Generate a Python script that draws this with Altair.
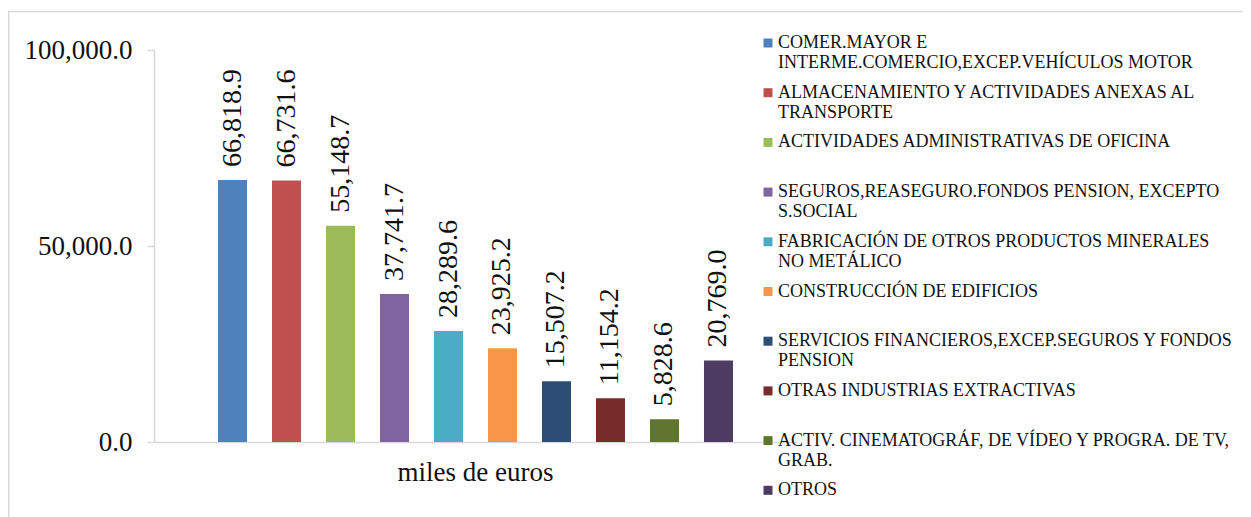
import altair as alt
import pandas as pd

sectors = [
    "COMER.MAYOR E|INTERME.COMERCIO,EXCEP.VEHÍCULOS MOTOR",
    "ALMACENAMIENTO Y ACTIVIDADES ANEXAS AL|TRANSPORTE",
    "ACTIVIDADES ADMINISTRATIVAS DE OFICINA",
    "SEGUROS,REASEGURO.FONDOS PENSION, EXCEPTO|S.SOCIAL",
    "FABRICACIÓN DE OTROS PRODUCTOS MINERALES|NO METÁLICO",
    "CONSTRUCCIÓN DE EDIFICIOS",
    "SERVICIOS FINANCIEROS,EXCEP.SEGUROS Y FONDOS|PENSION",
    "OTRAS INDUSTRIAS EXTRACTIVAS",
    "ACTIV. CINEMATOGRÁF, DE VÍDEO Y PROGRA. DE TV,|GRAB.",
    "OTROS",
]
values = [66818.9, 66731.6, 55148.7, 37741.7, 28289.6, 23925.2, 15507.2, 11154.2, 5828.6, 20769.0]
colors = ["#4F81BD", "#C0504D", "#9BBB59", "#8064A2", "#4BACC6",
          "#F79646", "#2C4D75", "#772C2A", "#5F7530", "#4D3B62"]
group = "miles de euros"
y_ticks = [0, 50000, 100000]

df = pd.DataFrame({"grupo": [group] * len(sectors), "sector": sectors, "valor": values})

FONT = "Liberation Serif, Times New Roman, serif"
GREY = "#D9D9D9"

base = alt.Chart(df).encode(
    x=alt.X("grupo:N", title=None,
            scale=alt.Scale(paddingInner=0, paddingOuter=0.0954),
            axis=alt.Axis(labelAngle=0, ticks=False, domainColor=GREY, domainWidth=1.5,
                          labelFont=FONT, labelFontSize=27, labelColor="#111111",
                          labelPadding=17, labelBaseline="top")),
    xOffset=alt.XOffset("sector:N", sort=sectors,
                        scale=alt.Scale(paddingInner=0.463, paddingOuter=0.2315)),
    y=alt.Y("valor:Q", title=None,
            scale=alt.Scale(domain=[0, 100000], nice=False),
            axis=alt.Axis(values=y_ticks, format=",.1f", grid=False,
                          domainColor=GREY, domainWidth=1.5, tickColor=GREY, tickWidth=1.5,
                          tickSize=7, labelFont=FONT, labelFontSize=27,
                          labelColor="#111111", labelPadding=15)),
)

bars = base.mark_bar().encode(
    color=alt.Color("sector:N", sort=sectors,
                    scale=alt.Scale(domain=sectors, range=colors),
                    legend=alt.Legend(
                        title=None, orient="none", legendX=605, legendY=-16,
                        symbolType="square", symbolSize=81, symbolStrokeWidth=0,
                        labelFont=FONT, labelFontSize=18, labelColor="#111111",
                        labelLimit=0, labelOffset=1, rowPadding=11.7,
                        labelExpr="length(split(datum.label,'|')) > 1 ? split(datum.label,'|') : [datum.label, ' ']",
                    ))
)

labels = base.mark_text(angle=270, align="left", baseline="middle", dx=13,
                        font=FONT, fontSize=28, color="#111111").encode(
    text=alt.Text("valor:Q", format=",.1f")
)

frame = alt.Chart(pd.DataFrame({"a": [0]})).mark_rect(
    fillOpacity=0, stroke=GREY, strokeWidth=1.5
).encode(
    x=alt.value(-145.25), x2=alt.value(1200), y=alt.value(-38.5), y2=alt.value(500)
)

chart = alt.layer(frame, bars, labels).properties(
    width=643, height=392,
    padding={"left": 146, "top": 42, "right": 446, "bottom": 80},
    autosize="none",
).configure(
    style={"guide-label": {"lineHeight": 20}}
).configure_view(strokeWidth=0)

chart.save("out.html", embed_options={"renderer": "svg", "actions": False})
